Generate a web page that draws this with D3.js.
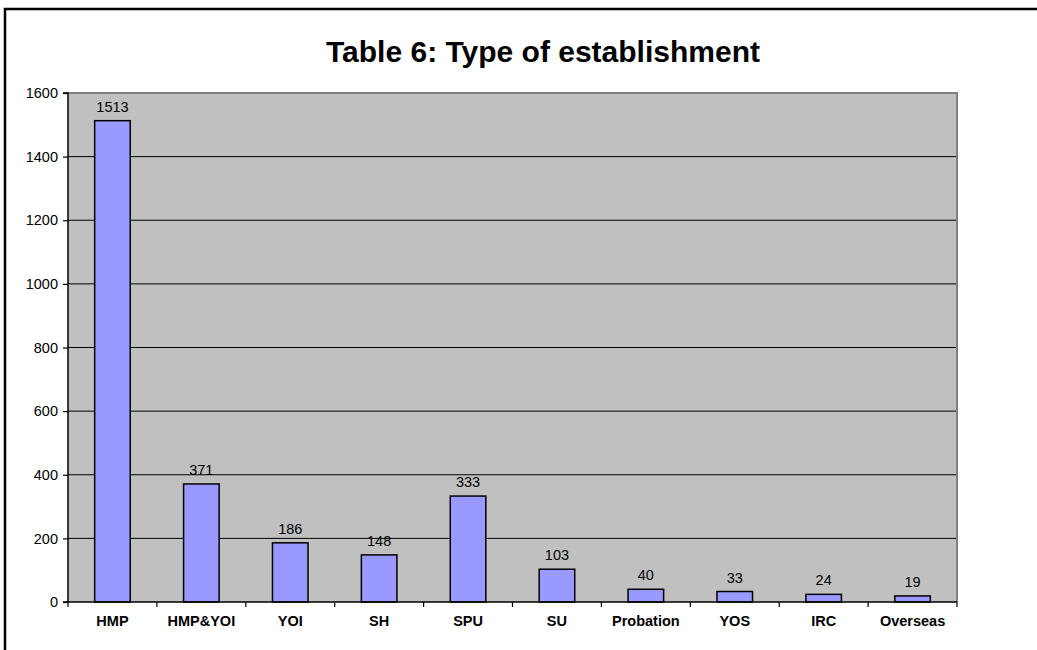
<!DOCTYPE html>
<html><head><meta charset="utf-8">
<script src="https://cdn.jsdelivr.net/npm/d3@7"></script>
<style>body{margin:0;background:#fff}svg{display:block}text{font-family:"Liberation Sans",Arial,sans-serif}</style>
</head><body>
<script>
const categories = ["HMP","HMP&YOI","YOI","SH","SPU","SU","Probation","YOS","IRC","Overseas"];
const values = [1513,371,186,148,333,103,40,33,24,19];
const yTicks = [0,200,400,600,800,1000,1200,1400,1600];
const title = "Table 6: Type of establishment";

const W = 1037, H = 650;
const L = 68, R = 957, T = 93, B = 602;
const svg = d3.select("body").append("svg").attr("width", W).attr("height", H);

// outer frame (only left/top visible)
svg.append("rect").attr("x", 5).attr("y", 9).attr("width", 1060).attr("height", 700)
  .attr("fill", "none").attr("stroke", "#000").attr("stroke-width", 2.5);

svg.append("text").attr("x", 543).attr("y", 62).attr("text-anchor", "middle")
  .attr("font-size", "30px").attr("font-weight", "bold").text(title);

const x = d3.scaleBand().domain(categories).range([L, R]);
const y = d3.scaleLinear().domain([0, 1600]).range([B, T]);

svg.append("rect").attr("x", L).attr("y", T).attr("width", R - L).attr("height", B - T).attr("fill", "#C0C0C0");

// gridlines
svg.append("g").selectAll("line").data(yTicks.filter(d => d > 0 && d < 1600)).join("line")
  .attr("x1", L).attr("x2", R).attr("y1", d => y(d)).attr("y2", d => y(d))
  .attr("stroke", "#000").attr("stroke-width", 1);

// plot border top/right
svg.append("path").attr("d", `M${L},${T}H${R}V${B}`).attr("fill", "none").attr("stroke", "#808080").attr("stroke-width", 2);

// bars
svg.append("g").selectAll("rect").data(values).join("rect")
  .attr("x", (d, i) => x(categories[i]) + x.bandwidth() * 0.3)
  .attr("width", x.bandwidth() * 0.4)
  .attr("y", d => y(d)).attr("height", d => B - y(d))
  .attr("fill", "#9999FF").attr("stroke", "#000").attr("stroke-width", 1.5);

// value labels
svg.append("g").selectAll("text").data(values).join("text")
  .attr("x", (d, i) => x(categories[i]) + x.bandwidth() / 2)
  .attr("y", d => y(d) - 9).attr("text-anchor", "middle").attr("font-size", "14.5px").text(d => d);

// y axis
const yAxis = d3.axisLeft(y).tickValues(yTicks).tickSize(5).tickPadding(5).tickFormat(d3.format("d"));
const gy = svg.append("g").attr("transform", `translate(${L},0)`).call(yAxis);
gy.select(".domain").attr("stroke", "#000").attr("stroke-width", 1.5).attr("d", `M-5,${T}H0V${B}H-5`);
gy.selectAll(".tick line").attr("stroke", "#000").attr("stroke-width", 1.2);
gy.selectAll(".tick text").attr("font-size", "14.5px").attr("fill", "#000").attr("font-family", "Liberation Sans, Arial, sans-serif");

// x axis
const gx = svg.append("g").attr("transform", `translate(0,${B})`);
gx.append("line").attr("x1", L).attr("x2", R).attr("stroke", "#000").attr("stroke-width", 1.5);
const bounds = categories.map(c => x(c)).concat([R]);
gx.selectAll(".xt").data(bounds).join("line").attr("class", "xt")
  .attr("x1", d => d).attr("x2", d => d).attr("y1", 0).attr("y2", 5).attr("stroke", "#000").attr("stroke-width", 1.2);
gx.selectAll(".xl").data(categories).join("text").attr("class", "xl")
  .attr("x", d => x(d) + x.bandwidth() / 2).attr("y", 24).attr("text-anchor", "middle")
  .attr("font-size", "14.5px").attr("font-weight", "bold").text(d => d);
</script>
</body></html>
